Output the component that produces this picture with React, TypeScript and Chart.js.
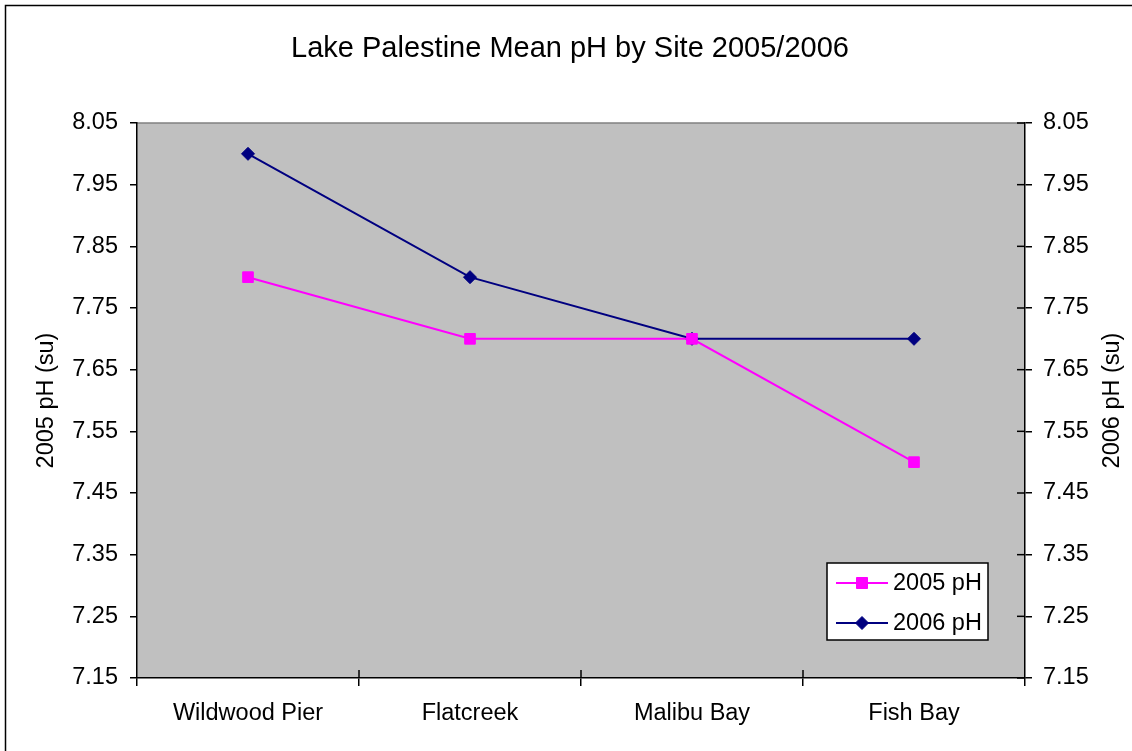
import React, { useEffect, useRef } from "react";
import { Chart, registerables } from "chart.js";

Chart.register(...registerables);

const titleText = "Lake Palestine Mean pH by Site 2005/2006";
const sites = ["Wildwood Pier", "Flatcreek", "Malibu Bay", "Fish Bay"];
const ph2005 = [7.8, 7.7, 7.7, 7.5];
const ph2006 = [8.0, 7.8, 7.7, 7.7];
const yTicks = [7.15, 7.25, 7.35, 7.45, 7.55, 7.65, 7.75, 7.85, 7.95, 8.05];
const leftAxisTitle = "2005 pH (su)";
const rightAxisTitle = "2006 pH (su)";
const label2005 = "2005 pH";
const label2006 = "2006 pH";

const FONT = "'Liberation Sans', Arial, sans-serif";
const LABEL_SIZE = 23.5;

const customPlugin = {
  id: "excelLook",
  beforeDraw(chart: any) {
    const { ctx, chartArea: a } = chart;
    ctx.save();
    ctx.fillStyle = "#ffffff";
    ctx.fillRect(0, 0, chart.width, chart.height);
    ctx.fillStyle = "#c0c0c0";
    ctx.fillRect(a.left, a.top, a.right - a.left, a.bottom - a.top);
    ctx.strokeStyle = "#808080";
    ctx.lineWidth = 1.5;
    ctx.beginPath();
    ctx.moveTo(a.left, a.top);
    ctx.lineTo(a.right, a.top);
    ctx.stroke();
    ctx.restore();
  },
  afterDraw(chart: any) {
    const { ctx, chartArea: a } = chart;
    ctx.save();
    // inner tick marks (cross style)
    ctx.strokeStyle = "#000000";
    ctx.lineWidth = 1.5;
    const y1 = chart.scales.y1;
    y1.ticks.forEach((t: any) => {
      const py = y1.getPixelForValue(t.value);
      ctx.beginPath();
      ctx.moveTo(a.right - 8, py);
      ctx.lineTo(a.right, py);
      ctx.stroke();
    });
    const xs = chart.scales.x;
    for (let i = 1; i < sites.length; i++) {
      const px = (xs.getPixelForValue(i - 1) + xs.getPixelForValue(i)) / 2;
      ctx.beginPath();
      ctx.moveTo(px, a.bottom - 8);
      ctx.lineTo(px, a.bottom);
      ctx.stroke();
    }

    // axis titles
    ctx.fillStyle = "#000000";
    ctx.font = `${LABEL_SIZE}px ${FONT}`;
    ctx.textAlign = "center";
    ctx.textBaseline = "middle";
    const cy = (a.top + a.bottom) / 2;
    ctx.save();
    ctx.translate(47, cy);
    ctx.rotate(-Math.PI / 2);
    ctx.fillText(leftAxisTitle, 0, 0);
    ctx.restore();
    ctx.save();
    ctx.translate(1113, cy);
    ctx.rotate(-Math.PI / 2);
    ctx.fillText(rightAxisTitle, 0, 0);
    ctx.restore();

    // legend box
    const lx = 827, ly = 563, lw = 161, lh = 77;
    ctx.fillStyle = "#ffffff";
    ctx.fillRect(lx, ly, lw, lh);
    ctx.strokeStyle = "#000000";
    ctx.lineWidth = 1.5;
    ctx.strokeRect(lx, ly, lw, lh);
    chart.data.datasets.forEach((ds: any, i: number) => {
      const ry = 583 + i * 40;
      ctx.strokeStyle = ds.borderColor;
      ctx.lineWidth = ds.borderWidth;
      ctx.beginPath();
      ctx.moveTo(836, ry);
      ctx.lineTo(888, ry);
      ctx.stroke();
      ctx.fillStyle = ds.pointBackgroundColor;
      ctx.strokeStyle = ds.pointBorderColor;
      ctx.lineWidth = 1;
      ctx.beginPath();
      if (ds.pointStyle === "rect") {
        ctx.rect(862 - 5.5, ry - 5.5, 11, 11);
      } else {
        ctx.moveTo(862 - 6.5, ry);
        ctx.lineTo(862, ry - 6.5);
        ctx.lineTo(862 + 6.5, ry);
        ctx.lineTo(862, ry + 6.5);
        ctx.closePath();
      }
      ctx.fill();
      ctx.stroke();
      ctx.fillStyle = "#000000";
      ctx.font = `${LABEL_SIZE}px ${FONT}`;
      ctx.textAlign = "left";
      ctx.textBaseline = "middle";
      ctx.fillText(ds.label, 893, ry + 1);
    });

    // outer chart border
    ctx.strokeStyle = "#000000";
    ctx.lineWidth = 1.5;
    ctx.beginPath();
    ctx.moveTo(chart.width + 2, 5.5);
    ctx.lineTo(5.5, 5.5);
    ctx.lineTo(5.5, chart.height + 2);
    ctx.stroke();
    ctx.restore();
  },
};

export default function App() {
  const ref = useRef<HTMLCanvasElement>(null);
  useEffect(() => {
    document.body.style.margin = "0";
    const chart = new Chart(ref.current!, {
      type: "line",
      data: {
        labels: sites,
        datasets: [
          {
            label: label2005,
            data: ph2005,
            yAxisID: "y",
            borderColor: "#ff00ff",
            backgroundColor: "#ff00ff",
            pointBackgroundColor: "#ff00ff",
            pointBorderColor: "#ff00ff",
            borderWidth: 2,
            pointStyle: "rect",
            pointRadius: 7.5,
            pointBorderWidth: 1,
            tension: 0,
          },
          {
            label: label2006,
            data: ph2006,
            yAxisID: "y1",
            borderColor: "#000080",
            backgroundColor: "#000080",
            pointBackgroundColor: "#000080",
            pointBorderColor: "#000080",
            borderWidth: 2,
            pointStyle: "rectRot",
            pointRadius: 6.5,
            pointBorderWidth: 1,
            tension: 0,
          },
        ],
      },
      options: {
        responsive: false,
        animation: false,
        layout: { padding: { left: 8, right: 0, top: 0, bottom: 0 } },
        plugins: {
          legend: { display: false },
          tooltip: { enabled: false },
          title: {
            display: true,
            text: titleText,
            color: "#000000",
            font: { family: FONT, size: 29, weight: "normal" },
            padding: { top: 31.6, bottom: 56.6 },
          },
        },
        scales: {
          x: {
            type: "category",
            offset: true,
            grid: {
              offset: true,
              drawOnChartArea: false,
              tickLength: 8,
              color: "#000000",
              lineWidth: 1.5,
            },
            border: { color: "#000000", width: 1.5 },
            ticks: {
              color: "#000000",
              font: { family: FONT, size: LABEL_SIZE },
              padding: 13,
              maxRotation: 0,
            },
            afterFit: (s: any) => {
              s.height = 73;
            },
          },
          y: {
            position: "left",
            min: 7.15,
            max: 8.05,
            afterBuildTicks: (s: any) => {
              s.ticks = yTicks.map((v) => ({ value: v }));
            },
            grid: {
              drawOnChartArea: false,
              tickLength: 7,
              color: "#000000",
              lineWidth: 1.5,
            },
            border: { color: "#000000", width: 1.5 },
            ticks: {
              color: "#000000",
              font: { family: FONT, size: LABEL_SIZE },
              padding: 12,
              callback: (v: any) => Number(v).toFixed(2),
            },
            afterFit: (s: any) => {
              s.width = 129;
            },
          },
          y1: {
            position: "right",
            min: 7.15,
            max: 8.05,
            afterBuildTicks: (s: any) => {
              s.ticks = yTicks.map((v) => ({ value: v }));
            },
            grid: {
              drawOnChartArea: false,
              tickLength: 7,
              color: "#000000",
              lineWidth: 1.5,
            },
            border: { color: "#000000", width: 1.5 },
            ticks: {
              color: "#000000",
              font: { family: FONT, size: LABEL_SIZE },
              padding: 11,
              callback: (v: any) => Number(v).toFixed(2),
            },
            afterFit: (s: any) => {
              s.width = 107;
            },
          },
        },
      },
      plugins: [customPlugin],
    } as any);
    return () => chart.destroy();
  }, []);
  return (
    <div style={{ position: "fixed", left: 0, top: 0, width: 1132, height: 751 }}>
      <canvas ref={ref} width={1132} height={751} style={{ display: "block" }} />
    </div>
  );
}
